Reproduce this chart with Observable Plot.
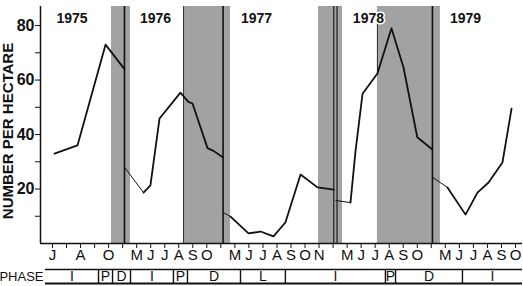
<!DOCTYPE html>
<html>
<head>
<meta charset="utf-8">
<script src="https://cdn.jsdelivr.net/npm/d3@7"></script>
<script src="https://cdn.jsdelivr.net/npm/@observablehq/plot@0.6"></script>
<style>
  html, body { margin: 0; padding: 0; background: #fff; }
  #chart { width: 523px; height: 286px; overflow: hidden; }
  #chart svg { display: block; }
</style>
</head>
<body>
<div id="chart"></div>
<script>
// Compressed time axis: months, winters squeezed to two units (Jun 1975 = 0)
const monthLabels = ["J","A","O","M","J","J","A","S","O","M","J","J","A","S","O","N","M","J","J","A","S","O","M","J","J","A","S","O"];
const monthT = [0,2,4,6,7,8,9,10,11,13,14,15,16,17,18,19,21,22,23,24,25,26,28,29,30,31,32,33];
const minorTicks = d3.range(0, 34);

const years = ["1975","1976","1977","1978","1979"];
const yearT = [1.39, 7.34, 14.54, 22.52, 29.44];

// shaded periods
const bandStart = [4.2, 9.34, 18.96, 23.16];
const bandEnd = [5.56, 12.69, 20.67, 27.65];
// vertical boundary lines
const boundaryT = [5.13, 12.16, 27.08];
const doubleT = [20.05, 20.28];
const edgeT = [9.34];

// density segments [t, number per hectare]
const seg1975 = [[0.14,33],[1.78,36],[3.78,73],[5.13,64]];
const seg1976 = [[5.13,28],[6.49,18.7],[6.98,21.3],[7.63,45.9],[9.12,55.4],[9.69,52],[9.98,51.4],[11.05,35],[11.48,34],[12.16,31.6]];
const seg1977 = [[12.16,11.4],[12.69,9.9],[13.97,3.7],[14.83,4.4],[15.75,2.6],[16.6,7.7],[17.68,25.3],[18.89,20.6],[20.05,19.8]];
const seg1978 = [[20.2,15.8],[21.24,15],[21.6,34],[22.1,55],[23.16,62.4],[24.16,79],[25.02,64.6],[26.0,39],[27.08,34.5]];
const seg1979 = [[27.08,24.3],[28.15,20.6],[29.44,10.6],[30.29,18.7],[31.08,22.4],[32.07,29.7],[32.72,49.5]];

// phases
const phaseLabels = ["I","P","D","I","P","D","L","I","P","D","I"];
const phaseBounds = [-0.5,3.28,4.28,5.56,8.62,9.62,13.4,16.6,23.73,24.45,29.22,33.5];

const xMin = -0.855, xMax = 33.5;
const yMax = 87;
const ink = "#111";
const font = "Liberation Sans, Arial, sans-serif";

const segs = [seg1975, seg1976, seg1977, seg1978, seg1979];
const thick = [], thin = [];
segs.forEach((s, k) => {
  s.forEach((p, i) => {
    if (k === 0 || i >= 1) thick.push({t: p[0], n: p[1], k});
    if (k > 0 && i <= 1) thin.push({t: p[0], n: p[1], k});
  });
});
const bands = bandStart.map((s, i) => ({s, e: bandEnd[i]}));
const tickMap = new Map(monthT.map((t, i) => [t, monthLabels[i]]));
const yearRows = years.map((y, i) => ({y, t: yearT[i]}));

const main = Plot.plot({
  width: 523, height: 265,
  marginLeft: 40, marginRight: 1, marginTop: 6, marginBottom: 22,
  style: {fontFamily: font, color: ink, background: "white"},
  x: {domain: [xMin, xMax]},
  y: {domain: [0, yMax]},
  marks: [
    Plot.rect(bands, {x1: "s", x2: "e", fill: "#a2a2a2"}),
    Plot.ruleX(edgeT, {stroke: "#333", strokeWidth: 1}),
    Plot.ruleX([{t: 23.16, a: 62.4, b: 83}], {x: "t", y1: "a", y2: "b", stroke: "#333", strokeWidth: 1}),
    Plot.ruleX(boundaryT, {stroke: ink, strokeWidth: 1.6}),
    Plot.ruleX(doubleT, {stroke: ink, strokeWidth: 1.1}),
    Plot.line(thin, {x: "t", y: "n", z: "k", stroke: ink, strokeWidth: 1}),
    Plot.line(thick, {x: "t", y: "n", z: "k", stroke: ink, strokeWidth: 1.8}),
    Plot.text(yearRows, {x: "t", text: "y", frameAnchor: "top", dy: 7, fontSize: 14, fontWeight: "bold", fill: ink, stroke: "white", strokeWidth: 3}),
    Plot.ruleY([0], {stroke: ink, strokeWidth: 1.5}),
    Plot.ruleX([xMin], {stroke: ink, strokeWidth: 1.5}),
    Plot.axisY({ticks: [10,20,30,40,50,60,70,80], tickSize: 5, tickPadding: 1, tickFormat: d => d % 20 === 0 ? d : "", fontSize: 16, fontWeight: "bold", label: null, stroke: ink, fill: ink}),
    Plot.axisX({ticks: minorTicks, tickSize: 5, tickFormat: () => "", label: null, stroke: ink}),
    Plot.axisX({ticks: monthT, tickSize: 0, tickPadding: 6, tickFormat: d => tickMap.get(d), fontSize: 15, label: null, fill: ink}),
    Plot.text(["NUMBER PER HECTARE"], {frameAnchor: "left", textAnchor: "middle", rotate: -90, dx: -32.5, dy: 6, fontSize: 15, fontWeight: "bold", fill: ink})
  ]
});

const phases = phaseLabels.map((p, i) => ({p, a: phaseBounds[i], b: phaseBounds[i + 1], m: (phaseBounds[i] + phaseBounds[i + 1]) / 2}));
const first = phaseBounds[0], last = phaseBounds[phaseBounds.length - 1];
const phase = Plot.plot({
  width: 523, height: 21,
  marginLeft: 40, marginRight: 1, marginTop: 4, marginBottom: 3,
  style: {fontFamily: font, color: ink, background: "white", overflow: "visible"},
  x: {domain: [xMin, xMax], axis: null},
  y: {domain: [0, 1], range: [4, 18], axis: null},
  marks: [
    Plot.ruleY([0], {x1: first, x2: last, stroke: ink, strokeWidth: 1.4}),
    Plot.ruleY([1], {x1: first, x2: last, stroke: ink, strokeWidth: 2}),
    Plot.ruleX(phaseBounds.slice(1, -1), {y1: 0, y2: 1, stroke: ink, strokeWidth: 1.4}),
    Plot.text(phases, {x: "m", y: 0.5, text: "p", fontSize: 14, fill: ink}),
    Plot.text(["PHASE"], {frameAnchor: "left", textAnchor: "end", dx: 3, fontSize: 13, fill: ink})
  ]
});

const root = document.getElementById("chart");
root.appendChild(main);
root.appendChild(phase);
</script>
</body>
</html>
